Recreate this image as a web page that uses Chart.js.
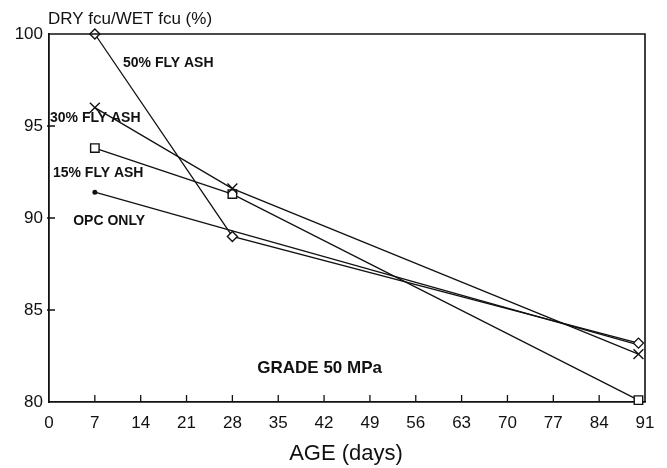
<!DOCTYPE html>
<html>
<head>
<meta charset="utf-8">
<script src="https://cdn.jsdelivr.net/npm/chart.js@4/dist/chart.umd.min.js"></script>
<style>
  html, body { margin: 0; padding: 0; background: #fff; }
  #wrap { width: 667px; height: 468px; }
</style>
</head>
<body>
<div id="wrap"><canvas id="c" width="667" height="468"></canvas></div>
<script>
// Curing age in days
const ages = [7, 28, 90];
// Dry-cured / wet-cured cube strength ratio (%), grade 50 MPa concrete
const opcOnly = [91.4, 89.3, 83.1];
const flyAsh15 = [93.8, 91.3, 80.1];
const flyAsh30 = [96.0, 91.6, 82.6];
const flyAsh50 = [100.0, 89.0, 83.2];

const xTicks = [0, 7, 14, 21, 28, 35, 42, 49, 56, 63, 70, 77, 84, 91];
const yTicks = [80, 85, 90, 95, 100];

// Series labels placed in data units: [text, age, ratio]
const seriesNotes = [
  ['50% FLY ASH', 11.3, 98.4],
  ['30% FLY ASH', 0.15, 95.45],
  ['15% FLY ASH', 0.6, 92.45],
  ['OPC ONLY', 3.7, 89.85],
  ['GRADE 50 MPa', 31.8, 81.85]
];

const toPts = vals => ages.map((a, i) => ({ x: a, y: vals[i] }));
const ink = '#111';
const face = '"Liberation Sans", Arial, sans-serif';

function series(label, vals, style, radius, fill) {
  return {
    label, data: toPts(vals),
    borderColor: ink, borderWidth: 1.3,
    pointStyle: style, pointRadius: radius,
    pointBorderColor: ink, pointBackgroundColor: fill || '#fff',
    pointBorderWidth: 1.4, tension: 0, clip: false
  };
}

const frame = {
  id: 'frame',
  afterDraw(chart) {
    const { ctx, chartArea: a, scales: { x, y } } = chart;
    ctx.save();
    ctx.strokeStyle = ink;
    ctx.lineWidth = 1.6;
    ctx.beginPath();
    ctx.moveTo(a.left, a.top); ctx.lineTo(a.right, a.top); ctx.lineTo(a.right, a.bottom);
    ctx.stroke();
    // inward tick marks
    ctx.lineWidth = 1.3;
    ctx.beginPath();
    x.ticks.forEach(t => {
      if (t.value <= 0 || t.value >= 91) return;
      const px = x.getPixelForValue(t.value);
      ctx.moveTo(px, a.bottom); ctx.lineTo(px, a.bottom - 7);
    });
    y.ticks.forEach(t => {
      if (t.value <= 80 || t.value >= 100) return;
      const py = y.getPixelForValue(t.value);
      ctx.moveTo(a.left - 2, py); ctx.lineTo(a.left + 6, py);
    });
    ctx.stroke();
    // annotations
    ctx.fillStyle = ink;
    ctx.textBaseline = 'middle';
    ctx.textAlign = 'left';
    seriesNotes.forEach(([txt, ax, ay]) => {
      ctx.font = txt.startsWith('GRADE') ? 'bold 17px ' + face : 'bold 14px ' + face;
      ctx.fillText(txt, x.getPixelForValue(ax), y.getPixelForValue(ay));
    });
    ctx.font = '17px ' + face;
    ctx.fillText('DRY fcu/WET fcu (%)', 48, 19);
    ctx.textAlign = 'center';
    ctx.font = '22px ' + face;
    ctx.fillText('AGE (days)', 346, 454);
    ctx.restore();
  }
};

new Chart(document.getElementById('c'), {
  type: 'line',
  data: {
    datasets: [
      series('50% FLY ASH', flyAsh50, 'rectRot', 5),
      series('30% FLY ASH', flyAsh30, 'crossRot', 7),
      series('15% FLY ASH', flyAsh15, 'rect', 6),
      series('OPC ONLY', opcOnly, 'circle', [1.8, 0, 0], ink)
    ]
  },
  options: {
    responsive: false,
    animation: false,
    layout: { padding: { left: 0, top: 34, right: 22, bottom: 0 } },
    plugins: { legend: { display: false }, tooltip: { enabled: false } },
    scales: {
      x: {
        type: 'linear', min: 0, max: 91,
        afterBuildTicks: s => { s.ticks = xTicks.map(v => ({ value: v })); },
        afterFit: s => { s.height = 66; },
        grid: { display: false, drawTicks: false },
        border: { display: true, color: ink, width: 1.8 },
        ticks: { color: ink, padding: 11, maxRotation: 0, autoSkip: false,
                 font: { size: 17, family: face } }
      },
      y: {
        min: 80, max: 100,
        afterBuildTicks: s => { s.ticks = yTicks.map(v => ({ value: v })); },
        afterFit: s => { s.width = 49; },
        grid: { display: false, drawTicks: false },
        border: { display: true, color: ink, width: 1.8 },
        ticks: { color: ink, padding: 6,
                 font: { size: 17, family: face } }
      }
    }
  },
  plugins: [frame]
});
</script>
</body>
</html>
